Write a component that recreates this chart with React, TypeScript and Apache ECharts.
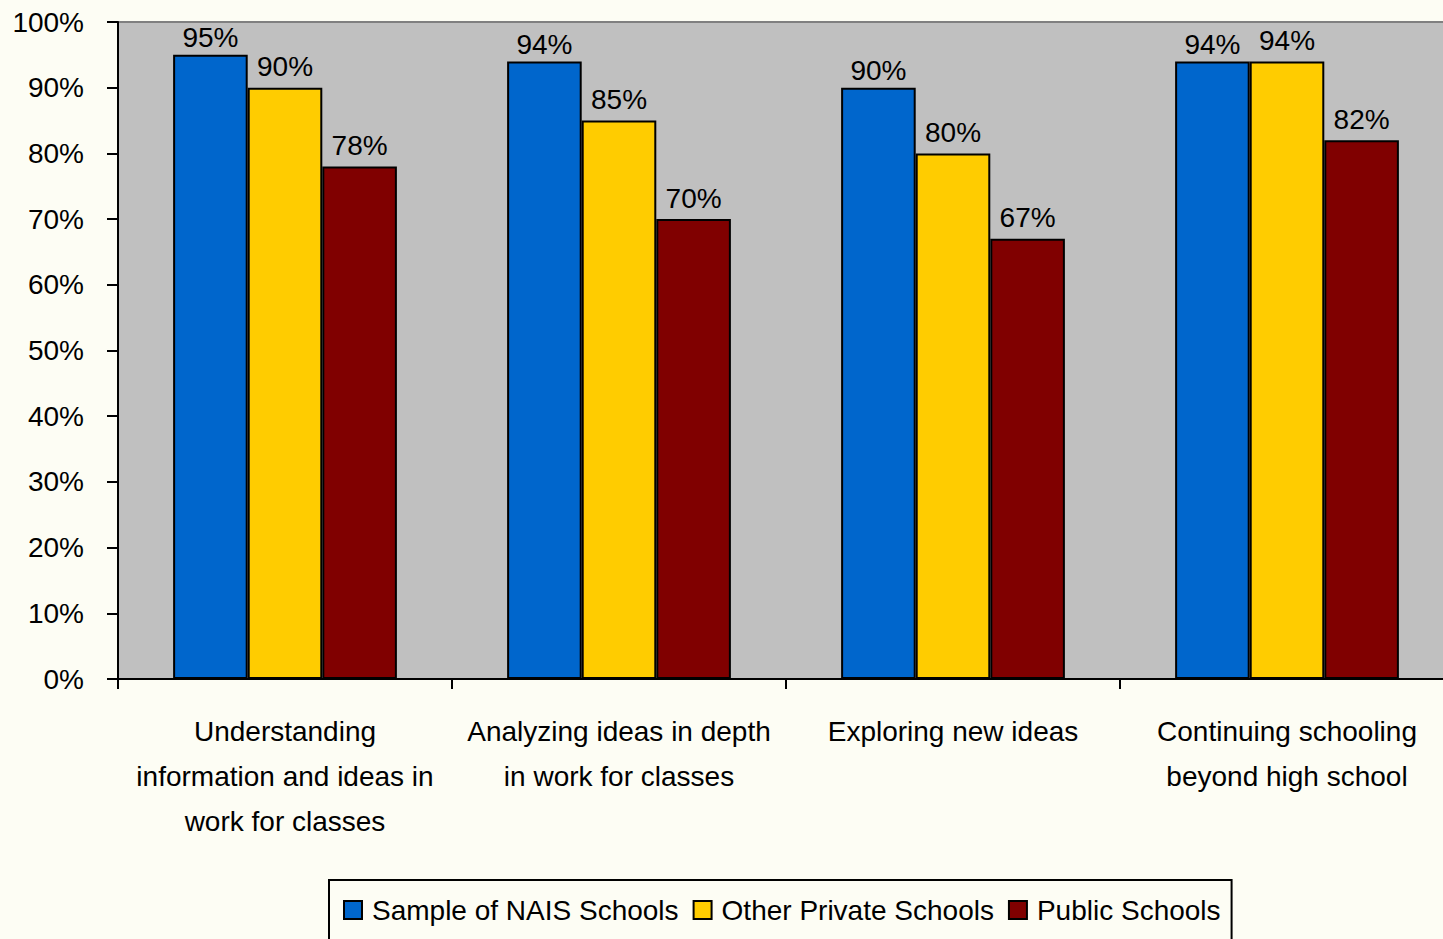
import React, { useEffect, useRef } from "react";
import * as echarts from "echarts";

const categories = [
  "Understanding\ninformation and ideas in\nwork for classes",
  "Analyzing ideas in depth\nin work for classes",
  "Exploring new ideas",
  "Continuing schooling\nbeyond high school",
];
const naisValues = [95, 94, 90, 94];
const otherPrivateValues = [90, 85, 80, 94];
const publicValues = [78, 70, 67, 82];
const seriesNames = ["Sample of NAIS Schools", "Other Private Schools", "Public Schools"];
const seriesColors = ["#0066CC", "#FFCC00", "#800000"];
const labelDistances = [3, 7, 7];

const FONT = "'Liberation Sans', Arial, sans-serif";

export default function App() {
  const ref = useRef<HTMLDivElement>(null);
  useEffect(() => {
    if (!ref.current) return;
    const chart = echarts.init(ref.current, undefined, { renderer: "svg" });
    const values = [naisValues, otherPrivateValues, publicValues];
    chart.setOption({
      animation: false,
      backgroundColor: "#FDFDF4",
      textStyle: { fontFamily: FONT },
      grid: {
        left: 118,
        top: 22,
        right: 6,
        bottom: 260,
        show: true,
        backgroundColor: "#C0C0C0",
        borderColor: "#808080",
        borderWidth: 2,
      },
      legend: {
        left: 329,
        top: 880,
        padding: [16, 11, 16, 14],
        borderColor: "#000",
        borderWidth: 2,
        itemWidth: 18,
        itemHeight: 18,
        itemGap: 14,
        icon: "rect",
        textStyle: { fontSize: 28, color: "#000", fontFamily: FONT, padding: [0, 0, 0, 5] },
        data: seriesNames,
      },
      xAxis: {
        type: "category",
        data: categories,
        axisLine: { lineStyle: { color: "#000", width: 2 } },
        axisTick: { show: true, length: 10, lineStyle: { color: "#000", width: 2 } },
        axisLabel: {
          fontSize: 28,
          color: "#000",
          lineHeight: 45,
          margin: 30,
          interval: 0,
          fontFamily: FONT,
        },
      },
      yAxis: {
        type: "value",
        min: 0,
        max: 100,
        interval: 10,
        splitLine: { show: false },
        axisLine: { show: true, lineStyle: { color: "#000", width: 2 } },
        axisTick: { show: true, length: 11, lineStyle: { color: "#000", width: 2 } },
        axisLabel: {
          formatter: "{value}%",
          fontSize: 28,
          color: "#000",
          margin: 34,
          fontFamily: FONT,
        },
      },
      series: seriesNames.map((name, i) => ({
        name,
        type: "bar",
        data: values[i],
        barGap: "0%",
        barCategoryGap: "33%",
        itemStyle: { color: seriesColors[i], borderColor: "#000", borderWidth: 2 },
        label: {
          show: true,
          position: "top",
          distance: labelDistances[i],
          formatter: "{c}%",
          fontSize: 28,
          color: "#000",
          fontFamily: FONT,
        },
      })),
    });
    return () => chart.dispose();
  }, []);
  return (
    <div style={{ position: "fixed", left: 0, top: 0, width: 1443, height: 939, overflow: "hidden" }}>
      <div ref={ref} style={{ width: 1460, height: 939 }} />
    </div>
  );
}
